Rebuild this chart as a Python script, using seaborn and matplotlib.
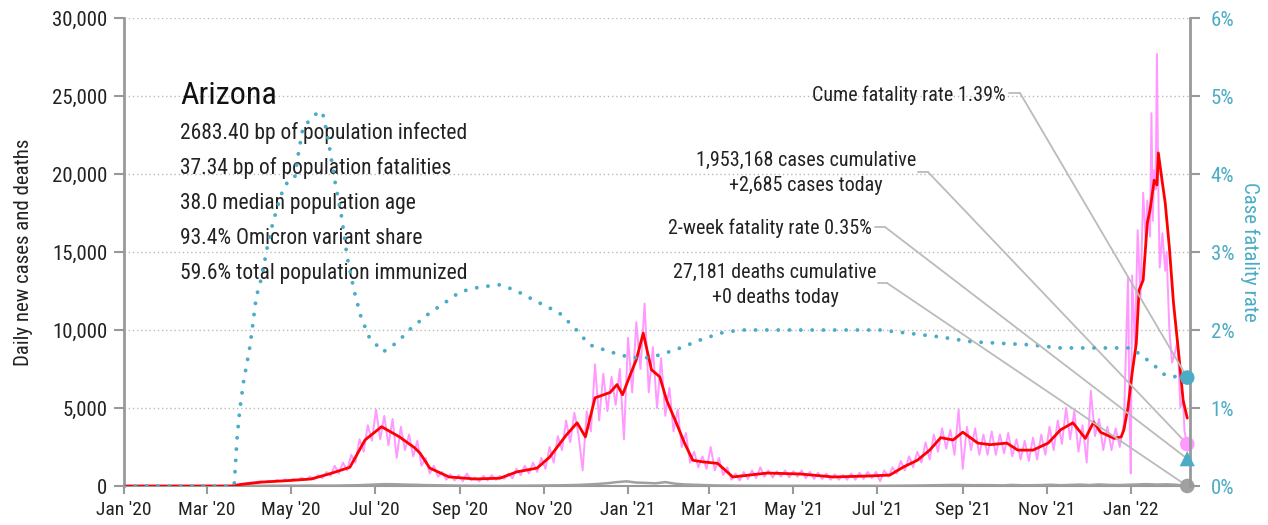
import numpy as np
import pandas as pd
import matplotlib
matplotlib.use("Agg")
import matplotlib.pyplot as plt
import matplotlib.dates as mdates
from matplotlib import font_manager
from matplotlib.ticker import FuncFormatter, FixedLocator
import seaborn as sns

# ---------------- data ----------------
START = pd.Timestamp("2020-01-01")

# raw daily new cases (sampled every 3 days from 2020-03-19 to 2021-12-27)
pink_a_start = "2020-03-19"
pink_a_vals = [
    0, 60, 120, 150, 200, 230, 250, 300, 250, 330,
    280, 380, 300, 420, 330, 450, 380, 520, 400, 600,
    420, 700, 500, 900, 650, 1300, 800, 1500, 1000, 2000,
    1500, 3000, 2200, 3900, 2900, 4900, 3000, 4500, 2600, 4300,
    1800, 3800, 2300, 3300, 1900, 2900, 1300, 1800, 800, 1300,
    600, 900, 400, 750, 350, 700, 300, 800, 350, 550,
    300, 650, 350, 700, 400, 650, 450, 800, 500, 1100,
    700, 1300, 800, 1500, 900, 1800, 1100, 2500, 1500, 3200,
    2300, 4200, 2800, 4700, 3300, 1000, 4800, 3500, 7800, 4200,
    7200, 4800, 7000, 5200, 7500, 3000, 9500, 6000, 10500, 7500,
    11700, 6000, 8900, 5000, 8200, 4500, 6300, 3500, 4900, 2500,
    3400, 1500, 2200, 1200, 1900, 1100, 2500, 1000, 1800, 700,
    1200, 400, 800, 350, 900, 450, 1000, 500, 1200, 600,
    1000, 550, 950, 600, 1000, 550, 950, 600, 1000, 500,
    900, 450, 850, 450, 800, 400, 750, 400, 700, 400,
    800, 400, 850, 450, 900, 500, 900, 300, 1000, 600,
    1200, 800, 1600, 1000, 1900, 1200, 2200, 1500, 2800, 1700,
    3300, 2200, 3700, 2400, 3600, 2000, 4900, 1100, 3800, 2300,
    3700, 2000, 3300, 2000, 3500, 2000, 3300, 2100, 3400, 1900,
    3000, 1700, 2900, 1600, 3100, 1700, 3300, 2000, 3800, 2300,
    4200, 2700, 5000, 3000, 4800, 2200, 3900, 1500, 6100, 3200,
    4300, 2300, 3800, 2300, 3700, 2500, 4000,
]
# raw daily new cases during the Omicron wave (days since 2020-01-01)
pink_b_day = [729, 730, 731, 732, 734, 736, 738, 740, 742, 743, 745, 746, 747,
              748, 749, 750, 751, 752, 754, 756, 757, 759, 761, 763, 765, 767,
              769, 770, 772]
pink_b_vals = [13400, 5000, 800, 13500, 9000, 16400, 12000, 18800, 15500, 18300,
               16000, 23900, 17000, 20250, 19000, 27700, 19000, 14000, 16200,
               13800, 15000, 10000, 7900, 8500, 9350, 5050, 5500, 3500, 2685]

# 7-day average of new cases (days since 2020-01-01)
red_day = [0, 78, 85, 100, 120, 136, 150, 164, 175, 187,
           200, 211, 215, 222, 236, 255, 273, 285, 300, 309,
           321, 329, 335, 342, 353, 358, 362, 367, 372, 377,
           383, 389, 394, 401, 407, 413, 420, 431, 438, 442,
           467, 491, 515, 540, 556, 566, 576, 585, 593, 602,
           609, 620, 629, 641, 649, 660, 671, 680, 689, 698,
           704, 709, 719, 724, 726, 729, 732, 735, 737, 740,
           743, 745, 748, 750, 751, 754, 756, 759, 762, 766,
           769, 772]
red_vals = [0, 0, 100, 250, 350, 450, 800, 1200, 2950, 3800,
            3150, 2450, 2100, 1150, 580, 450, 500, 900, 1150, 1850,
            3250, 4050, 3150, 5650, 6000, 6500, 5850, 7000, 8100, 9800,
            7450, 7000, 5500, 4050, 2750, 1650, 1550, 1450, 900, 580,
            830, 770, 580, 640, 700, 1220, 1650, 2300, 3100, 2950,
            3450, 2750, 2650, 2750, 2300, 2300, 2750, 3600, 4050, 3050,
            4100, 3450, 3050, 3150, 3600, 5050, 7250, 9150, 12550, 13200,
            16850, 17700, 19600, 19300, 21350, 19400, 18150, 15300, 11750, 8300,
            5500, 4350]

# daily deaths (weekly samples from 2020-03-19)
deaths_start = "2020-03-19"
deaths_vals = [2, 5, 10, 15, 20, 20, 25, 20, 30, 25, 25, 30, 40, 50,
               70, 100, 120, 110, 90, 80, 60, 50, 40, 30, 25, 20, 20,
               15, 15, 20, 20, 25, 30, 40, 45, 55, 70, 100, 130, 180,
               250, 300, 220, 200, 170, 250, 150, 100, 80, 60, 40, 30, 25,
               20, 15, 15, 12, 12, 12, 15, 10, 12, 10, 10, 12, 15,
               15, 12, 15, 20, 25, 30, 40, 50, 60, 70, 60, 50, 55,
               50, 40, 70, 45, 50, 60, 80, 50, 70, 90, 60, 100, 70,
               60, 80, 100, 120, 90, 110, 80, 0]

# case fatality rate, % (days since 2020-01-01)
cfr_day = [0, 80, 82, 84, 87, 91, 93, 96, 100, 104,
           108, 113, 116, 120, 124, 126, 130, 135, 140, 144,
           148, 153, 158, 162, 167, 172, 178, 188, 193, 200,
           207, 222, 233, 244, 258, 273, 284, 298, 316, 327,
           338, 353, 367, 378, 389, 404, 418, 433, 447, 549,
           564, 593, 615, 636, 658, 680, 731, 740, 749, 756,
           764, 772]
cfr_vals = [0, 0, 0.59, 0.97, 1.36, 1.74, 2.0, 2.42, 2.68, 3.06,
            3.37, 3.67, 3.83, 3.92, 3.96, 4.2, 4.6, 4.69, 4.78, 4.8,
            4.47, 3.92, 3.45, 2.94, 2.51, 2.17, 1.91, 1.72, 1.77, 1.87,
            2.0, 2.22, 2.35, 2.49, 2.55, 2.58, 2.51, 2.38, 2.22, 2.03,
            1.81, 1.72, 1.65, 1.64, 1.68, 1.77, 1.87, 1.96, 2.0, 2.0,
            1.97, 1.91, 1.85, 1.83, 1.81, 1.77, 1.77, 1.66, 1.53, 1.42,
            1.40, 1.39]

last_day = 772
cume_cfr = 1.39
two_week_cfr = 0.35
cases_today = 2685
deaths_today = 0

title = "Arizona"
info_lines = ["2683.40 bp of population infected",
              "37.34 bp of population fatalities",
              "38.0 median population age",
              "93.4% Omicron variant share",
              "59.6% total population immunized"]
ann_cume = "Cume fatality rate 1.39%"
ann_cases = "1,953,168 cases cumulative\n+2,685 cases today"
ann_2wk = "2-week fatality rate 0.35%"
ann_deaths = "27,181 deaths cumulative\n+0 deaths today"

left_ticks = [0, 5000, 10000, 15000, 20000, 25000, 30000]
right_ticks = [0, 1, 2, 3, 4, 5, 6]

# ---------------- frames ----------------
def days_to_dates(days):
    return START + pd.to_timedelta(np.asarray(days, dtype=float), unit="D")

pink_a = pd.DataFrame({"date": pd.date_range(pink_a_start, periods=len(pink_a_vals), freq="3D"),
                       "cases": pink_a_vals})
pink_b = pd.DataFrame({"date": days_to_dates(pink_b_day), "cases": pink_b_vals})
pink = pd.concat([pink_a, pink_b], ignore_index=True)
red = pd.DataFrame({"date": days_to_dates(red_day), "avg": red_vals})
deaths = pd.DataFrame({"date": pd.date_range(deaths_start, periods=len(deaths_vals), freq="7D"),
                       "deaths": deaths_vals})
cfr = pd.DataFrame({"date": days_to_dates(cfr_day), "cfr": cfr_vals})
last_date = days_to_dates([last_day])[0]

# ---------------- style ----------------
sns.set_style("white")
names = {f.name for f in font_manager.fontManager.ttflist}
fam = None
for cand in ["Liberation Sans Narrow", "Roboto Condensed", "Open Sans Condensed"]:
    if cand in names:
        fam = cand
        break
if fam is None:
    fam = "DejaVu Sans"
    plt.rcParams["font.stretch"] = "condensed"
plt.rcParams["font.family"] = [fam, "DejaVu Sans"]

TEAL = "#4BACC6"
PINK = "#FF99FF"
RED = "#FF0000"
GRAYD = "#A0A0A0"
SPINE = "#999999"
LEAD = "#BBBBBB"
TXT = "#222222"

fig = plt.figure(figsize=(12.68, 5.25), dpi=100)
ax = fig.add_axes([124 / 1268, 1 - 486 / 525, 1066 / 1268, 468 / 525])
ax2 = ax.twinx()

sns.lineplot(data=pink, x="date", y="cases", ax=ax, color=PINK, lw=1.4, zorder=2)
sns.lineplot(data=deaths, x="date", y="deaths", ax=ax, color=GRAYD, lw=1.8, zorder=3)
sns.lineplot(data=red, x="date", y="avg", ax=ax, color=RED, lw=2.0, zorder=4)
sns.lineplot(data=cfr, x="date", y="cfr", ax=ax2, color=TEAL, lw=2.8,
             linestyle=(0, (0.01, 2.9)), dash_capstyle="round", zorder=3)

xmin = START
xmax = days_to_dates([774])[0]
ax.set_xlim(xmin, xmax)
ax.set_ylim(0, 30000)
ax2.set_ylim(0, 6)

ax.xaxis.set_major_locator(mdates.MonthLocator(bymonth=[1, 3, 5, 7, 9, 11]))
ax.xaxis.set_major_formatter(mdates.DateFormatter("%b '%y"))
ax.yaxis.set_major_locator(FixedLocator(left_ticks))
ax.yaxis.set_major_formatter(FuncFormatter(lambda v, p: f"{int(v):,}"))
ax2.yaxis.set_major_locator(FixedLocator(right_ticks))
ax2.yaxis.set_major_formatter(FuncFormatter(lambda v, p: f"{int(v)}%"))

ax.grid(False)
ax2.grid(False)
ax.yaxis.grid(True, linestyle=(0, (1, 2)), color="#BBBBBB", lw=1.0)
ax.set_axisbelow(True)

for a in (ax, ax2):
    for s in a.spines.values():
        s.set_visible(False)
ax.spines["left"].set_visible(True)
ax.spines["left"].set_color(SPINE)
ax.spines["left"].set_linewidth(2)
ax.spines["bottom"].set_visible(True)
ax.spines["bottom"].set_color(SPINE)
ax.spines["bottom"].set_linewidth(1.5)
ax2.spines["right"].set_visible(True)
ax2.spines["right"].set_color(SPINE)
ax2.spines["right"].set_linewidth(2)

ax.tick_params(axis="x", length=6, width=1.5, color=SPINE, labelsize=14, labelcolor=TXT, pad=5, bottom=True)
ax.tick_params(axis="y", length=7, width=1.5, color=SPINE, labelsize=15, labelcolor=TXT, pad=5, left=True)
ax2.tick_params(axis="y", length=7, width=1.5, color=SPINE, labelsize=15, labelcolor=TEAL, pad=8, right=True)

ax.set_xlabel("")
ax.set_ylabel("Daily new cases and deaths", fontsize=15, color=TXT, labelpad=14)
ax2.set_ylabel("Case fatality rate", fontsize=15, color=TEAL, rotation=270, labelpad=18)

# end markers
sns.scatterplot(x=[last_date], y=[cume_cfr], ax=ax2, color=TEAL, s=110, marker="o",
                edgecolor="none", clip_on=False, zorder=6)
sns.scatterplot(x=[last_date], y=[two_week_cfr], ax=ax2, color=TEAL, s=120, marker="^",
                edgecolor="none", clip_on=False, zorder=6)
sns.scatterplot(x=[last_date], y=[cases_today], ax=ax, color=PINK, s=110, marker="o",
                edgecolor="none", clip_on=False, zorder=6)
sns.scatterplot(x=[last_date], y=[deaths_today], ax=ax, color=GRAYD, s=110, marker="o",
                edgecolor="none", clip_on=False, zorder=6)

# title + info
def fx(px):
    return (px - 124) / 1066

def fy(py):
    return (486 - py) / 468

ax.text(fx(180), fy(95), title, transform=ax.transAxes, fontsize=23, color="#111111",
        ha="left", va="center")
for i, line in enumerate(info_lines):
    ax.text(fx(180), fy(133 + 35.2 * i), line, transform=ax.transAxes, fontsize=15.5,
            color=TXT, ha="left", va="center")

# annotations with leader lines
def leader(target_ax, target_y, text, tx, ty, ha, x0, x1, ly):
    ax.text(fx(tx), fy(ty), text, transform=ax.transAxes, fontsize=14.5, color=TXT,
            ha=ha, va="center", multialignment="center", linespacing=1.45, zorder=7)
    ax.plot([fx(x0), fx(x1)], [fy(ly), fy(ly)], transform=ax.transAxes, color=LEAD,
            lw=1.3, clip_on=False, zorder=5)
    target_ax.annotate("", xy=(last_date, target_y), xycoords="data",
                       xytext=(fx(x1), fy(ly)), textcoords=ax.transAxes,
                       arrowprops=dict(arrowstyle="-", color=LEAD, lw=1.3,
                                       shrinkA=0, shrinkB=0), zorder=5)

leader(ax2, cume_cfr, ann_cume, 1006, 95, "right", 1009, 1020, 93)
leader(ax, cases_today, ann_cases, 806, 173, "center", 918, 928, 172)
leader(ax2, two_week_cfr, ann_2wk, 872, 228, "right", 875, 885, 227)
leader(ax, deaths_today, ann_deaths, 775, 285, "center", 878, 887, 283)

fig.savefig("out.png", dpi=100)
